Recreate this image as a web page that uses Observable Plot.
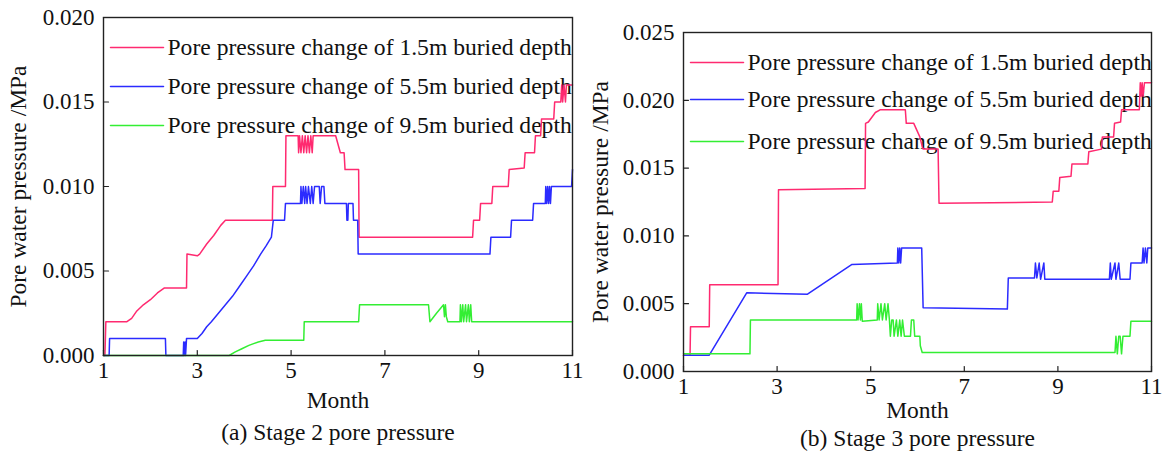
<!DOCTYPE html>
<html><head><meta charset="utf-8">
<script src="https://cdn.jsdelivr.net/npm/d3@7"></script>
<script src="https://cdn.jsdelivr.net/npm/@observablehq/plot@0.6"></script>
<style>
body{margin:0;background:#fff;}
#wrap{position:relative;width:1169px;height:454px;overflow:hidden;background:#fff;}
#wrap svg{position:absolute;top:0;}
</style></head><body><div id="wrap"></div>
<script>
const monthTicks = [1,3,5,7,9,11];
const seriesLabels = [
  "Pore pressure change of 1.5m buried depth",
  "Pore pressure change of 5.5m buried depth",
  "Pore pressure change of 9.5m buried depth"
];
const seriesColors = ["#ff2a70", "#2b2bff", "#33ee33"];
const yTicksStage2 = [0, 0.005, 0.010, 0.015, 0.020];
const yTicksStage3 = [0, 0.005, 0.010, 0.015, 0.020, 0.025];

// Stage 2 — [month, MPa]
const stage2_1_5m = [[1,0],[1.03,0],[1.05,0.002],[1.5,0.002],[1.6,0.0022],[1.7,0.0026],[1.85,0.003],[2.0,0.0033],[2.15,0.0037],[2.3,0.004],[2.77,0.004],[2.78,0.006],[3.0,0.0059],[3.05,0.006],[3.2,0.0066],[3.35,0.0071],[3.5,0.0077],[3.6,0.008],[4.6,0.008],[4.61,0.010],[4.88,0.010],[4.89,0.013],[5.15,0.013],[5.16,0.012],[5.18,0.013],[5.21,0.012],[5.24,0.013],[5.27,0.012],[5.3,0.013],[5.33,0.012],[5.36,0.013],[5.39,0.012],[5.42,0.013],[5.45,0.012],[5.47,0.013],[5.95,0.013],[6.0,0.0125],[6.05,0.012],[6.13,0.012],[6.15,0.011],[6.44,0.011],[6.45,0.007],[8.87,0.007],[8.89,0.008],[9.02,0.008],[9.04,0.009],[9.28,0.009],[9.3,0.010],[9.63,0.010],[9.65,0.011],[9.97,0.0111],[9.99,0.012],[10.19,0.012],[10.21,0.013],[10.32,0.013],[10.34,0.014],[10.6,0.014],[10.62,0.015],[10.75,0.015],[10.77,0.016],[10.79,0.015],[10.82,0.016],[10.85,0.015],[10.87,0.016],[11,0.016]];
const stage2_5_5m = [[1,0],[1.12,0],[1.13,0.001],[2.32,0.001],[2.33,0],[2.7,0],[2.71,0.0008],[2.72,0],[2.74,0.0008],[2.75,0],[2.77,0.001],[3.0,0.001],[3.1,0.0013],[3.2,0.0017],[3.3,0.002],[3.45,0.0025],[3.6,0.003],[3.75,0.0035],[3.9,0.0041],[4.05,0.0047],[4.2,0.0053],[4.35,0.006],[4.47,0.0065],[4.58,0.007],[4.62,0.008],[4.86,0.008],[4.88,0.009],[5.2,0.009],[5.21,0.01],[5.23,0.009],[5.26,0.01],[5.29,0.009],[5.31,0.01],[5.34,0.009],[5.37,0.01],[5.41,0.009],[5.44,0.01],[5.47,0.009],[5.5,0.01],[5.6,0.01],[5.62,0.009],[5.65,0.01],[5.7,0.01],[5.72,0.009],[6.18,0.009],[6.19,0.008],[6.21,0.008],[6.22,0.009],[6.32,0.009],[6.33,0.008],[6.42,0.008],[6.43,0.006],[9.24,0.006],[9.26,0.007],[9.68,0.007],[9.7,0.008],[10.15,0.008],[10.17,0.009],[10.42,0.009],[10.43,0.01],[10.45,0.009],[10.47,0.01],[10.49,0.009],[10.51,0.01],[10.53,0.009],[10.55,0.01],[10.98,0.01],[11,0.011]];
const stage2_9_5m = [[1,0],[3.68,0],[3.8,0.0002],[3.95,0.0004],[4.1,0.0006],[4.3,0.0008],[4.45,0.0009],[5.27,0.0009],[5.28,0.002],[6.44,0.002],[6.46,0.003],[7.93,0.003],[7.96,0.002],[8.1,0.0025],[8.25,0.003],[8.27,0.0023],[8.29,0.003],[8.31,0.0023],[8.34,0.002],[8.6,0.002],[8.61,0.003],[8.63,0.002],[8.66,0.003],[8.68,0.002],[8.72,0.003],[8.74,0.002],[8.78,0.003],[8.8,0.002],[8.83,0.003],[8.85,0.002],[11,0.002]];

// Stage 3 — [month, MPa]
const stage3_1_5m = [[1,0.0012],[1.14,0.0012],[1.15,0.0033],[1.55,0.0033],[1.56,0.0064],[3.02,0.0064],[3.03,0.0134],[4.88,0.0135],[4.89,0.0183],[4.95,0.0184],[5.1,0.0191],[5.2,0.0193],[5.74,0.0193],[5.76,0.0183],[5.92,0.0183],[6.05,0.0173],[6.1,0.0166],[6.12,0.0164],[6.44,0.0164],[6.46,0.0124],[8.88,0.0125],[8.9,0.0133],[9.02,0.0133],[9.04,0.0143],[9.28,0.0144],[9.3,0.0153],[9.64,0.0153],[9.66,0.0162],[9.93,0.0164],[9.95,0.0173],[10.19,0.0173],[10.21,0.0183],[10.34,0.0184],[10.36,0.0193],[10.74,0.0193],[10.76,0.0213],[10.78,0.0203],[10.8,0.0213],[10.82,0.0203],[10.85,0.0213],[11,0.0213]];
const stage3_5_5m = [[1,0.0012],[1.55,0.0012],[2.35,0.0058],[3.65,0.0057],[4.6,0.0079],[5.57,0.008],[5.58,0.0091],[5.6,0.008],[5.62,0.0091],[5.64,0.008],[5.66,0.0091],[6.09,0.0091],[6.12,0.0047],[7.92,0.0046],[7.94,0.0069],[8.5,0.0069],[8.52,0.008],[8.55,0.0069],[8.6,0.008],[8.63,0.0068],[8.7,0.008],[8.72,0.0068],[10.1,0.0068],[10.12,0.008],[10.14,0.0068],[10.22,0.008],[10.24,0.0068],[10.3,0.008],[10.33,0.0068],[10.54,0.0068],[10.56,0.008],[10.8,0.008],[10.82,0.0091],[10.84,0.008],[10.87,0.0091],[10.9,0.008],[10.92,0.0091],[11,0.0091]];
const stage3_9_5m = [[1,0.0013],[2.42,0.0013],[2.43,0.0038],[4.7,0.0038],[4.71,0.005],[4.73,0.0038],[4.76,0.005],[4.78,0.0038],[4.8,0.005],[4.82,0.0037],[5.14,0.0038],[5.15,0.005],[5.18,0.0038],[5.22,0.005],[5.25,0.0038],[5.3,0.005],[5.33,0.0038],[5.37,0.005],[5.4,0.0038],[5.42,0.0026],[5.45,0.0038],[5.48,0.0038],[5.5,0.0026],[5.55,0.0038],[5.58,0.0026],[5.62,0.0038],[5.65,0.0026],[5.68,0.0038],[5.72,0.0026],[5.85,0.0026],[5.87,0.0038],[5.92,0.0038],[5.94,0.0026],[6.05,0.0026],[6.06,0.0019],[6.1,0.0014],[10.22,0.0014],[10.24,0.0026],[10.27,0.0013],[10.3,0.0026],[10.33,0.0026],[10.36,0.0013],[10.39,0.0026],[10.54,0.0026],[10.56,0.0037],[11,0.0037]];

const FONT = "'Liberation Serif', 'Times New Roman', serif";
const lineShape = {draw(ctx, l) { ctx.moveTo(0, 0); ctx.lineTo(0, -l); }};
const INK = "#111";

function panel({series, yMax, yTicks, left, width, margin, monthDy, captionDy, titleDx, legendDy, caption}) {
  const legendMarks = [];
  series.forEach((s, i) => {
    legendMarks.push(Plot.vector([0], {frameAnchor: "top-left", dx: 7, dy: legendDy[i], length: 53, rotate: 90, anchor: "start", shape: lineShape, stroke: seriesColors[i], strokeWidth: 1.5}));
    legendMarks.push(Plot.text([seriesLabels[i]], {text: d => d, frameAnchor: "top-left", dx: 64, dy: legendDy[i], textAnchor: "start", lineAnchor: "middle", fontSize: 23.6, fill: INK}));
  });
  const svg = Plot.plot({
    width, height: 454,
    marginLeft: margin[0], marginRight: margin[1], marginTop: margin[2], marginBottom: margin[3],
    style: {fontFamily: FONT, fontSize: "23px", color: INK, background: "transparent"},
    x: {domain: [1, 11]},
    y: {domain: [0, yMax]},
    marks: [
      ...legendMarks,
      ...series.map((s, i) => Plot.line(s, {x: d => d[0], y: d => d[1], stroke: seriesColors[i], strokeWidth: 1.5})),
      Plot.frame({stroke: "#222", strokeWidth: 1.4}),
      Plot.vector(monthTicks, {x: d => d, frameAnchor: "bottom", length: 5, anchor: "start", shape: lineShape, stroke: "#222", strokeWidth: 1.2}),
      Plot.vector(yTicks, {y: d => d, frameAnchor: "left", length: 5, rotate: 90, anchor: "start", shape: lineShape, stroke: "#222", strokeWidth: 1.2}),
      Plot.axisX({ticks: monthTicks, tickSize: 0, tickPadding: 6, tickFormat: d => String(d), label: null, fontSize: 23, fill: INK}),
      Plot.axisY({ticks: yTicks, tickSize: 0, tickPadding: 9, tickFormat: d3.format(".3f"), label: null, fontSize: 23, fill: INK}),
      Plot.text(["Month"], {text: d => d, frameAnchor: "bottom", dy: monthDy, textAnchor: "middle", lineAnchor: "middle", fontSize: 23.5, fill: INK}),
      Plot.text([caption], {text: d => d, frameAnchor: "bottom", dy: captionDy, textAnchor: "middle", lineAnchor: "middle", fontSize: 23.5, fill: INK}),
      Plot.text(["Pore water pressure /MPa"], {text: d => d, frameAnchor: "left", dx: titleDx, rotate: -90, textAnchor: "middle", lineAnchor: "middle", fontSize: 23.5, fill: INK})
    ]
  });
  svg.style.left = left + "px";
  document.getElementById("wrap").appendChild(svg);
}

panel({series: [stage2_1_5m, stage2_5_5m, stage2_9_5m], yMax: 0.020, yTicks: yTicksStage2,
  left: 0, width: 585, margin: [103, 13, 17, 99], monthDy: 45, captionDy: 77, titleDx: -85,
  legendDy: [30, 69, 108], caption: "(a) Stage 2 pore pressure"});
panel({series: [stage3_1_5m, stage3_5_5m, stage3_9_5m], yMax: 0.025, yTicks: yTicksStage3,
  left: 585, width: 584, margin: [98, 18, 32, 83], monthDy: 39, captionDy: 67, titleDx: -83,
  legendDy: [30, 67, 109], caption: "(b) Stage 3 pore pressure"});
</script></body></html>
